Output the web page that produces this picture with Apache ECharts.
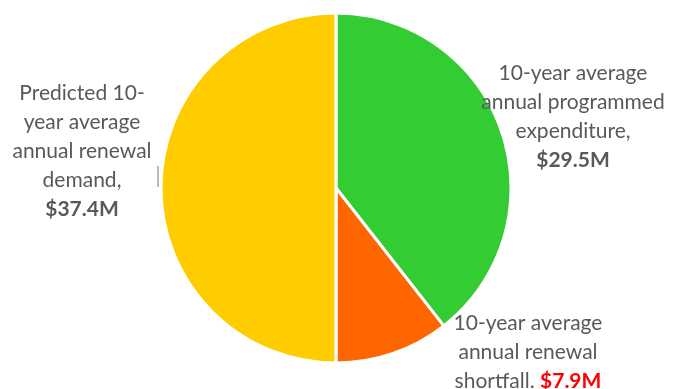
<!DOCTYPE html>
<html><head><meta charset="utf-8">
<script src="https://cdn.jsdelivr.net/npm/echarts@6/dist/echarts.min.js"></script>
<style>html,body{margin:0;padding:0;background:#fff}#c{width:675px;height:389px}</style>
</head><body><div id="c"></div>
<script>
const categories = ["10-year average\nannual programmed\nexpenditure,", "10-year average\nannual renewal\nshortfall.", "Predicted 10-\nyear average\nannual renewal\ndemand,"];
const values = [29.5, 7.9, 37.4];
const valueLabels = ["$29.5M", "$7.9M", "$37.4M"];
const colors = ["#33CC33", "#FF6600", "#FFCC00"];
const labelPos = [[573, 117], [528, 352], [82, 151]];

const chart = echarts.init(document.getElementById('c'));
chart.setOption({
  animation: false,
  series: [{
    type: 'pie',
    center: [336, 188],
    radius: 175,
    startAngle: 90,
    clockwise: true,
    itemStyle: { borderColor: '#fff', borderWidth: 3 },
    labelLine: { show: false },
    data: categories.map((c, i) => ({
      name: c, value: values[i],
      itemStyle: { color: colors[i] },
      label: {
        formatter: i === 1 ? c + ' {r|' + valueLabels[i] + '}' : c + '\n{b|' + valueLabels[i] + '}'
      }
    })),
    label: {
      show: true,
      position: 'outside',
      overflow: 'none',
      color: '#595959',
      fontFamily: 'Lato, "Open Sans", sans-serif',
      fontSize: 21,
      lineHeight: 29,
      align: 'center',
      rich: {
        b: { fontWeight: 'bold', fontSize: 21, color: '#595959', lineHeight: 29, fontFamily: 'Lato, sans-serif' },
        r: { fontWeight: 'bold', fontSize: 21, color: '#FF0000', lineHeight: 29, fontFamily: 'Lato, sans-serif' }
      }
    },
    labelLayout: function (p) {
      const pos = labelPos[p.dataIndex];
      return { x: pos[0], y: pos[1], align: 'center', verticalAlign: 'middle' };
    }
  }],
  graphic: [{
    type: 'line', shape: { x1: 158, y1: 166, x2: 158, y2: 187 },
    style: { stroke: '#A6A6A6', lineWidth: 1.5 }
  }]
});
</script>
</body></html>
